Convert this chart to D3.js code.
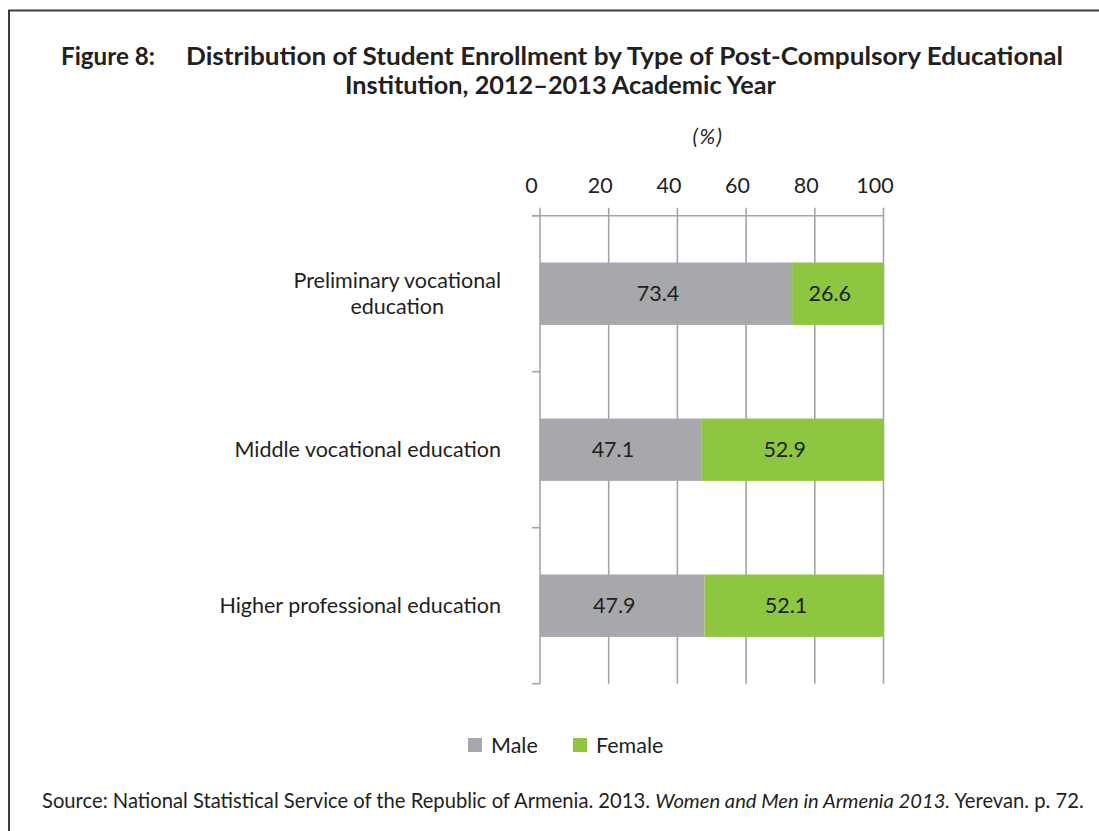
<!DOCTYPE html>
<html>
<head>
<meta charset="utf-8">
<script src="https://cdn.jsdelivr.net/npm/d3@7"></script>
<style>
  html, body { margin: 0; padding: 0; background: #fff; }
  svg { display: block; font-family: Lato, "Open Sans", sans-serif; }
</style>
</head>
<body>
<svg id="chart" width="1099" height="831"></svg>
<script>
// Enrollment shares (%) by institution type, 2012–2013
const categories = [
  ["Preliminary vocational", "education"],
  ["Middle vocational education"],
  ["Higher professional education"]
];
const maleValues = [73.4, 47.1, 47.9];
const femaleValues = [26.6, 52.9, 52.1];
const seriesNames = ["Male", "Female"];
const xTicks = [0, 20, 40, 60, 80, 100];

const colors = { Male: "#a7a8ab", Female: "#8dc63f" };
const gridColor = "#a3a4a7";
const textColor = "#231f20";

const svg = d3.select("#chart");

// Frame
svg.append("path")
  .attr("d", "M9,831 V10.5 H1099")
  .attr("fill", "none")
  .attr("stroke", "#3c3c3c")
  .attr("stroke-width", 2);

// Title
const titleSize = 25.5;
svg.append("text")
  .attr("x", 61).attr("y", 65)
  .attr("font-weight", 700).attr("font-size", titleSize)
  .attr("fill", textColor)
  .attr("textLength", 94).attr("lengthAdjust", "spacingAndGlyphs")
  .text("Figure 8:");
svg.append("text")
  .attr("x", 186).attr("y", 65)
  .attr("font-weight", 700).attr("font-size", titleSize)
  .attr("fill", textColor)
  .attr("textLength", 877).attr("lengthAdjust", "spacingAndGlyphs")
  .text("Distribution of Student Enrollment by Type of Post-Compulsory Educational");
svg.append("text")
  .attr("x", 345).attr("y", 94)
  .attr("font-weight", 700).attr("font-size", titleSize)
  .attr("fill", textColor)
  .attr("textLength", 431).attr("lengthAdjust", "spacingAndGlyphs")
  .text("Institution, 2012–2013 Academic Year");

// Scales
const x = d3.scaleLinear().domain([0, 100]).range([540, 883.5]);
const keys = categories.map((d, i) => i);
const y = d3.scaleBand().domain(keys).range([215.7, 683.7])
  .paddingInner(0.6).paddingOuter(0.3);
const step = y.step();
const boundaries = keys.map(k => y(k) - step * 0.3).concat([683.7]);

// Gridlines
svg.append("g").selectAll("line").data(xTicks).join("line")
  .attr("x1", d => x(d)).attr("x2", d => x(d))
  .attr("y1", 207.7).attr("y2", 683.7)
  .attr("stroke", gridColor).attr("stroke-width", 1.6);

// Top axis line
svg.append("line")
  .attr("x1", 532).attr("x2", x(100))
  .attr("y1", 215.7).attr("y2", 215.7)
  .attr("stroke", gridColor).attr("stroke-width", 1.6);

// Category boundary ticks on the left axis
svg.append("g").selectAll("line").data(boundaries).join("line")
  .attr("x1", 532).attr("x2", x(0))
  .attr("y1", d => d).attr("y2", d => d)
  .attr("stroke", gridColor).attr("stroke-width", 1.6);

// Tick labels
svg.append("g").selectAll("text").data(xTicks).join("text")
  .attr("x", d => x(d) - 8.5).attr("y", 192.5)
  .attr("text-anchor", "middle")
  .attr("font-size", 21.5)
  .attr("fill", textColor)
  .text(d => d);

// Unit label
svg.append("text")
  .attr("x", 708).attr("y", 144)
  .attr("text-anchor", "middle")
  .attr("font-style", "italic")
  .attr("font-size", 21)
  .attr("letter-spacing", 1.5)
  .attr("fill", textColor)
  .text("(%)");

// Stacked bars
const rows = keys.map(k => ({ k, Male: maleValues[k], Female: femaleValues[k] }));
const stacked = d3.stack().keys(seriesNames)(rows);

stacked.forEach(series => {
  const g = svg.append("g");
  g.selectAll("rect").data(series).join("rect")
    .attr("x", d => x(d[0]))
    .attr("width", d => x(d[1]) - x(d[0]))
    .attr("y", d => y(d.data.k))
    .attr("height", y.bandwidth())
    .attr("fill", colors[series.key]);
  g.selectAll("text").data(series).join("text")
    .attr("x", d => (x(d[0]) + x(d[1])) / 2 - 8)
    .attr("y", d => y(d.data.k) + y.bandwidth() / 2 + 7.5)
    .attr("text-anchor", "middle")
    .attr("font-size", 21.5)
    .attr("fill", textColor)
    .text(d => (d[1] - d[0]).toFixed(1));
});

// Category labels (multi-line labels are centred within their block)
categories.forEach((lines, k) => {
  const cy = y(k) + y.bandwidth() / 2;
  const lh = 26;
  const g = svg.append("g");
  const texts = lines.map((line, i) => g.append("text")
    .attr("y", cy + 7.5 + (i - (lines.length - 1) / 2) * lh)
    .attr("font-size", 21.5)
    .attr("fill", textColor)
    .text(line));
  const maxW = d3.max(texts, t => t.node().getComputedTextLength());
  const right = 501;
  texts.forEach(t => t.attr("x", right - maxW / 2).attr("text-anchor", "middle"));
});

// Legend
const legend = svg.append("g");
const legendItems = [{ name: "Male", x: 468 }, { name: "Female", x: 573 }];
legendItems.forEach(it => {
  legend.append("rect")
    .attr("x", it.x).attr("y", 738)
    .attr("width", 14).attr("height", 14)
    .attr("fill", colors[it.name]);
  legend.append("text")
    .attr("x", it.x + 23).attr("y", 753)
    .attr("font-size", 21.5)
    .attr("fill", textColor)
    .text(it.name);
});

// Source note
const src = svg.append("text")
  .attr("x", 42).attr("y", 808)
  .attr("font-size", 20.2)
  .attr("fill", textColor);
src.append("tspan").text("Source: National Statistical Service of the Republic of Armenia. 2013. ");
src.append("tspan").attr("font-style", "italic").text("Women and Men in Armenia 2013.");
src.append("tspan").text(" Yerevan. p. 72.");
</script>
</body>
</html>
